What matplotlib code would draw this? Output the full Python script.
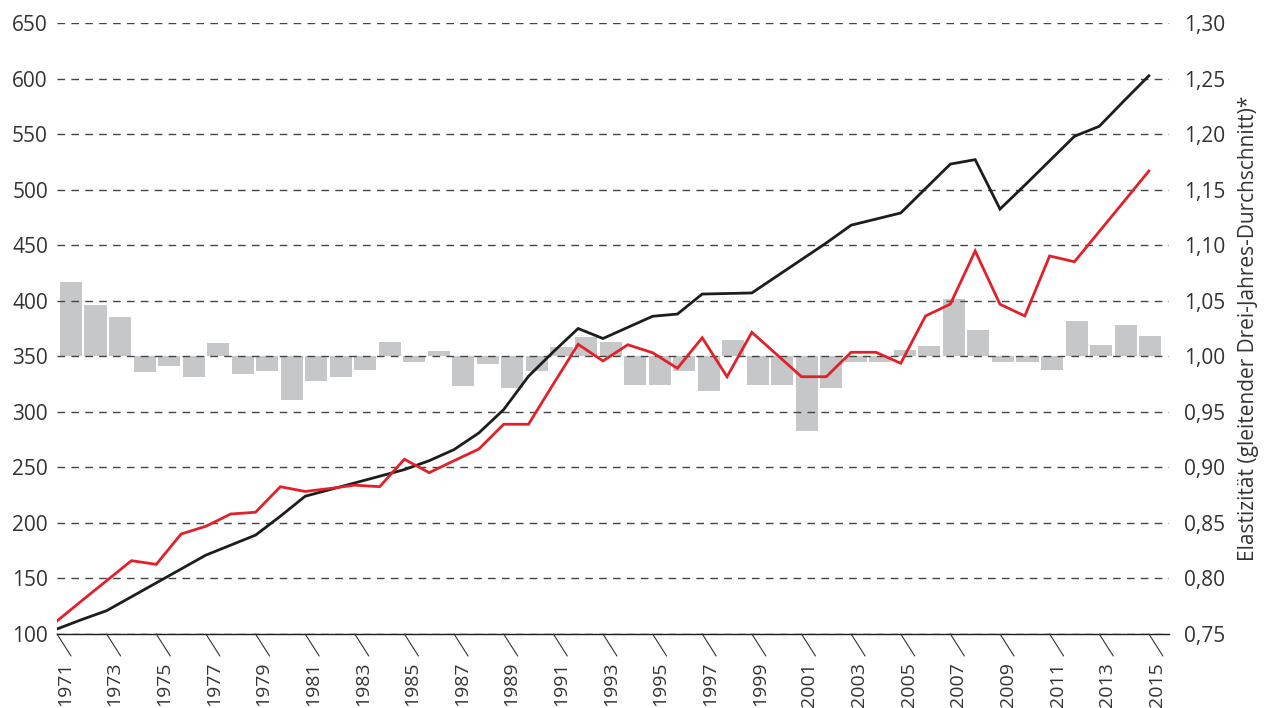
import matplotlib.pyplot as plt

plt.rcParams['font.family'] = ['Open Sans', 'DejaVu Sans']

years = list(range(1971, 2016))

# left axis series
black_line = [104.5, 113, 121, 133.5, 146, 158.5, 171, 180, 189, 206,
              224, 230, 236, 242, 248, 256, 266, 281, 302, 332,
              354, 375, 366, 376, 386, 388, 406, 406.5, 407, 422,
              437, 452, 468, 473.5, 479, 501, 523, 527, 482.5, 504,
              526, 548, 557, 580, 602.5]
red_line = [111.7, 130, 148, 166, 162.7, 190, 197, 208, 209.6, 232.6,
            228.3, 231, 234, 232.6, 257.3, 245.2, 256, 266.5, 288.8, 288.8,
            325, 360.8, 345.8, 360.4, 353.2, 339.2, 366.7, 331.6, 371.6, 351.6,
            331.6, 331.6, 353.6, 353.6, 343.7, 386.3, 397, 444.8, 396.8, 386.3,
            440.3, 435.1, 462.3, 489.5, 516.8]

# right axis: elasticity (bars start at 1,00)
elasticity = [1.067, 1.046, 1.035, 0.986, 0.991, 0.981, 1.012, 0.984, 0.987, 0.961,
              0.978, 0.981, 0.988, 1.013, 0.995, 1.005, 0.973, 0.993, 0.971, 0.987,
              1.008, 1.017, 1.013, 0.974, 0.974, 0.987, 0.969, 1.015, 0.974, 0.974,
              0.933, 0.971, 0.995, 0.995, 1.006, 1.009, 1.052, 1.024, 0.995, 0.995,
              0.988, 1.032, 1.010, 1.028, 1.018]
base = 1.0

left_ticks = list(range(100, 651, 50))
right_ticks = [0.75, 0.80, 0.85, 0.90, 0.95, 1.00, 1.05, 1.10, 1.15, 1.20, 1.25, 1.30]
label_years = years[::2]

txt = '#333333'

fig = plt.figure(figsize=(12.68, 7.08), dpi=100)
rect = [57 / 1268, 74 / 708, 1112 / 1268, 611 / 708]

# bars on their own axes (right scale)
axb = fig.add_axes(rect)
axb.bar(years, [v - base for v in elasticity], bottom=base, width=0.9,
        color='#c6c7c9', zorder=1)
axb.set_xlim(1970.43, 2015.77)
axb.set_ylim(0.75, 1.30)
axb.set_yticks(right_ticks)
axb.set_yticklabels([f'{v:.2f}'.replace('.', ',') for v in right_ticks])
axb.yaxis.tick_right()
axb.tick_params(axis='y', length=0, pad=11, labelsize=15, labelcolor=txt)
axb.set_xticks([])
for s in axb.spines.values():
    s.set_visible(False)
axb.set_ylabel('Elastizität (gleitender Drei-Jahres-Durchschnitt)*', fontsize=15,
               color=txt)
axb.yaxis.set_label_position('right')
axb.yaxis.set_label_coords(1.062, 0.5)

# lines on top (left scale)
ax = fig.add_axes(rect)
ax.patch.set_visible(False)
ax.set_xlim(1971, 2015.81)
ax.set_ylim(100, 650)
ax.set_yticks(left_ticks)
ax.tick_params(axis='y', length=0, pad=6.5, labelsize=15, labelcolor=txt)
ax.yaxis.grid(True, color='#444444', lw=1, linestyle=(0, (5.5, 4.5)))
ax.set_axisbelow(True)
ax.plot(years, black_line, color='#1d1d1b', lw=2, zorder=3, solid_joinstyle='miter')
ax.plot(years, red_line, color='#e3202a', lw=2, zorder=4, solid_joinstyle='miter')
for s in ['left', 'right', 'top']:
    ax.spines[s].set_visible(False)
ax.spines['bottom'].set_color('#1d1d1b')
ax.spines['bottom'].set_linewidth(1)
ax.set_xticks([])

# slanted tick marks and rotated year labels
for yr in label_years:
    ax.annotate('', xy=(yr, 0), xycoords=('data', 'axes fraction'),
                xytext=(14, -22), textcoords='offset pixels',
                arrowprops=dict(arrowstyle='-', lw=0.8, color=txt,
                                shrinkA=0, shrinkB=0),
                annotation_clip=False)
    ax.annotate(str(yr), xy=(yr, 0), xycoords=('data', 'axes fraction'),
                xytext=(8, -28), textcoords='offset pixels',
                rotation=90, ha='center', va='top', fontsize=14, color=txt,
                annotation_clip=False)

fig.savefig('out.png', dpi=100)
